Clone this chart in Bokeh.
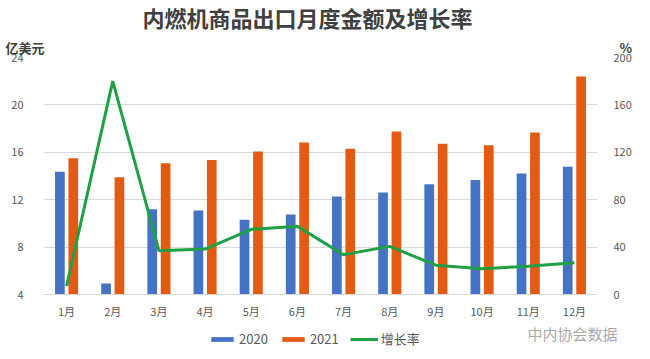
from bokeh.plotting import figure
from bokeh.layouts import column
from bokeh.models import (Range1d, LinearAxis, FixedTicker, Legend, LegendItem,
                          Title, Label, ColumnDataSource)
from bokeh.embed import file_html
from bokeh.resources import INLINE

months = ["1月", "2月", "3月", "4月", "5月", "6月", "7月", "8月", "9月", "10月", "11月", "12月"]
v2020 = [14.36, 4.92, 11.2, 11.08, 10.3, 10.75, 12.28, 12.6, 13.3, 13.67, 14.22, 14.78]
v2021 = [15.5, 13.9, 15.08, 15.36, 16.06, 16.83, 16.3, 17.75, 16.72, 16.6, 17.67, 22.4]
growth = [7.2, 180, 37, 38.3, 55, 57.5, 33.6, 40.6, 24.7, 21.7, 23.9, 26.7]
left_ticks = [4, 8, 12, 16, 20, 24]
right_ticks = [0, 40, 80, 120, 160, 200]
series_names = ["2020", "2021", "增长率"]

FONT = "Noto Sans CJK SC"
BLUE = "#4472C4"
ORANGE = "#E35B12"
GREEN = "#1FA043"
GRID = "#D9D9D9"
TXT = "#595959"

xs = list(range(1, len(months) + 1))
src = ColumnDataSource(dict(
    x=xs,
    x20=[x - 0.145 for x in xs],
    x21=[x + 0.145 for x in xs],
    v2020=v2020, v2021=v2021, growth=growth,
))

p = figure(width=634, height=321, output_backend="svg", toolbar_location=None,
           x_range=Range1d(0.5, 12.5), y_range=Range1d(4, 24),
           min_border_left=43, min_border_right=27, min_border_top=57,
           min_border_bottom=24, outline_line_color=None,
           background_fill_color="white", border_fill_color="white")
p.frame_align = False
p.extra_y_ranges = {"pct": Range1d(0, 200)}

# unit labels row (closest to the frame)
unit_text = "亿美元" + "\u3000" * 44 + "\u00a0" + "%"
p.add_layout(Title(text=unit_text, align="left", offset=-38, standoff=2,
                   text_font=FONT, text_font_size="13px", text_font_style="bold",
                   text_color="#404040", text_line_height=1.0), "above")

p.title.text = "内燃机商品出口月度金额及增长率"
p.title.text_font = FONT
p.title.text_font_size = "22px"
p.title.text_font_style = "bold"
p.title.text_color = "#404040"
p.title.align = "left"
p.title.offset = 99
p.title.standoff = 0
p.title.text_line_height = 1.0
p.title.vertical_align = "top"

p.vbar(x="x20", top="v2020", bottom=4, width=0.21, source=src,
       fill_color=BLUE, line_color=None)
p.vbar(x="x21", top="v2021", bottom=4, width=0.21, source=src,
       fill_color=ORANGE, line_color=None)
p.line(x="x", y="growth", source=src, y_range_name="pct",
       line_color=GREEN, line_width=3)

# axes
p.xaxis.ticker = FixedTicker(ticks=xs)
p.xaxis.major_label_overrides = {x: m for x, m in zip(xs, months)}
p.xaxis.axis_line_color = GRID
p.xaxis.major_tick_line_color = None
p.xaxis.minor_tick_line_color = None
p.xaxis.major_label_text_font = FONT
p.xaxis.major_label_text_font_size = "11px"
p.xaxis.major_label_text_color = TXT
p.xaxis.major_label_standoff = 2

p.yaxis.ticker = FixedTicker(ticks=left_ticks)
p.yaxis.axis_line_color = None
p.yaxis.major_tick_line_color = None
p.yaxis.minor_tick_line_color = None
p.yaxis.major_label_text_font = FONT
p.yaxis.major_label_text_font_size = "11px"
p.yaxis.major_label_text_color = TXT
p.yaxis.major_label_standoff = 14

ra = LinearAxis(y_range_name="pct", ticker=FixedTicker(ticks=right_ticks))
ra.axis_line_color = None
ra.major_tick_line_color = None
ra.minor_tick_line_color = None
ra.major_label_text_font = FONT
ra.major_label_text_font_size = "11px"
ra.major_label_text_color = TXT
ra.major_label_standoff = 10
p.add_layout(ra, "right")

p.xgrid.grid_line_color = None
p.ygrid.ticker = FixedTicker(ticks=left_ticks)
p.ygrid.grid_line_color = GRID

# legend strip below the chart (its glyphs sit outside its visible range)
s = figure(width=634, height=29, output_backend="svg", toolbar_location=None,
           x_range=Range1d(-100, -99), y_range=Range1d(-100, -99),
           x_axis_location=None, y_axis_location=None,
           min_border=0, outline_line_color=None,
           background_fill_color="white", border_fill_color="white")
s.frame_align = False
s.xgrid.visible = False
s.ygrid.visible = False
g20 = s.vbar(x="x20", top="v2020", width=0.21, source=src, fill_color=BLUE, line_color=None)
g21 = s.vbar(x="x21", top="v2021", width=0.21, source=src, fill_color=ORANGE, line_color=None)
gg = s.line(x="x", y="growth", source=src, line_color=GREEN, line_width=3)

legend = Legend(items=[LegendItem(label=n, renderers=[r])
                       for n, r in zip(series_names, [g20, g21, gg])],
                orientation="horizontal", location=(208, 2),
                glyph_width=28, glyph_height=6, spacing=11, label_standoff=3,
                label_text_font=FONT, label_text_font_size="13px",
                label_text_color=TXT, border_line_color=None,
                background_fill_alpha=0, padding=0, margin=0)
s.add_layout(legend)

s.add_layout(Label(x=527, y=17, x_units="screen", y_units="screen",
                   text="中内协会数据", text_baseline="middle",
                   text_font=FONT, text_font_size="15px", text_color="#A8A8A8"))

layout = column(p, s, spacing=0)
open("out.html", "w").write(file_html(layout, INLINE))
